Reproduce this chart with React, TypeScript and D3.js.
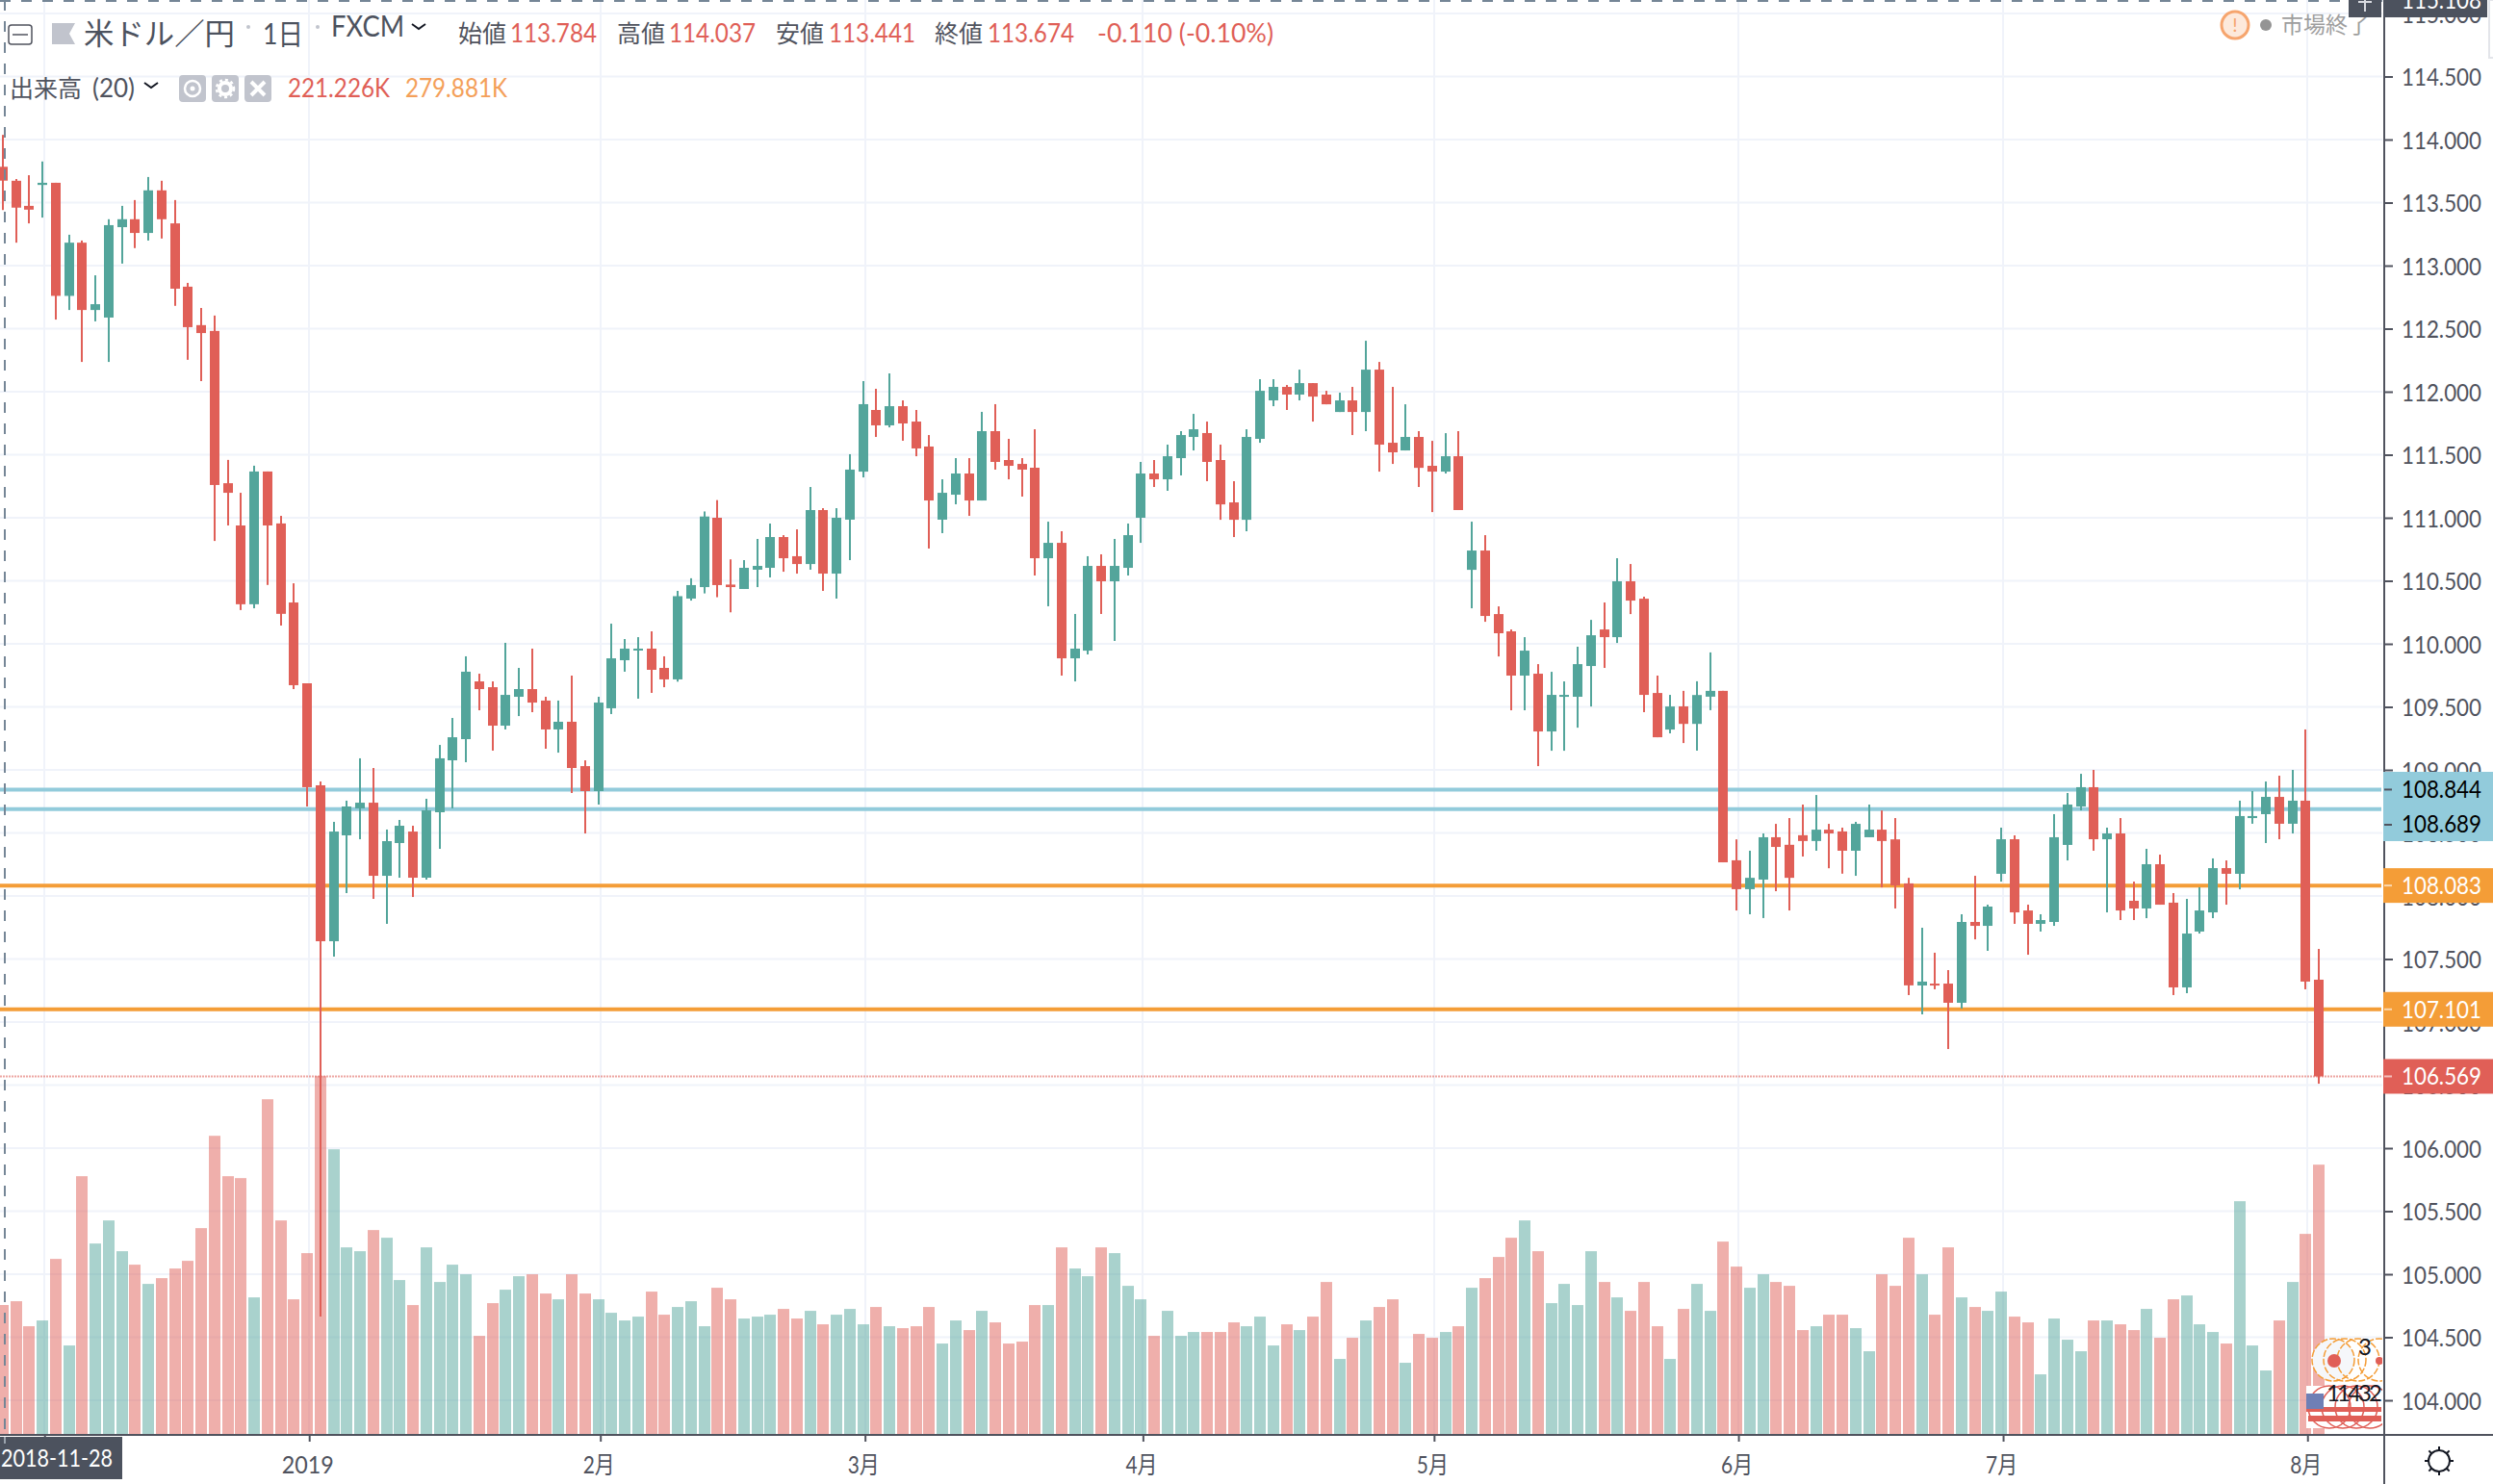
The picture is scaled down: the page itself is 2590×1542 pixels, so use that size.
import React, { useRef, useEffect } from 'react';
import { select, scaleLinear, axisRight, axisBottom, format, range } from 'd3';

// USD/JPY daily
const opens = [
  113.784, 113.673, 113.474, 113.64, 113.657, 112.76, 113.182, 112.648, 112.588, 113.305,
  113.368, 113.259, 113.597, 113.335, 112.833, 112.528, 112.482, 111.274, 110.939, 110.314,
  111.367, 110.955, 110.328, 109.687, 108.878, 107.641, 108.481, 108.695, 108.74, 108.16,
  108.42, 108.511, 108.145, 108.664, 109.076, 109.244, 109.702, 109.656, 109.351, 109.58,
  109.641, 109.55, 109.321, 109.382, 109.03, 108.832, 109.489, 109.87, 109.947, 109.962,
  109.809, 109.718, 110.359, 110.45, 111.0, 110.47, 110.435, 110.588, 110.603, 110.847,
  110.695, 110.633, 111.061, 110.557, 110.985, 111.366, 111.855, 111.733, 111.885, 111.763,
  111.565, 110.985, 111.183, 111.351, 111.137, 111.687, 111.458, 111.427, 111.397, 110.679,
  110.801, 109.885, 109.946, 110.618, 110.496, 110.603, 111.0, 111.351, 111.305, 111.473,
  111.641, 111.672, 111.458, 111.122, 110.984, 111.626, 111.931, 112.038, 111.977, 112.068,
  111.977, 111.839, 111.931, 111.839, 112.175, 111.595, 111.534, 111.641, 111.412, 111.366,
  111.488, 110.587, 110.74, 110.236, 110.099, 109.748, 109.763, 109.305, 109.58, 109.58,
  109.824, 110.114, 110.053, 110.496, 110.358, 109.61, 109.32, 109.504, 109.365, 109.581,
  109.627, 108.283, 108.054, 108.13, 108.466, 108.406, 108.482, 108.436, 108.526, 108.512,
  108.359, 108.466, 108.526, 108.449, 108.1, 107.29, 107.305, 107.305, 107.153, 107.794,
  107.763, 108.176, 108.45, 107.885, 107.779, 107.794, 108.405, 108.71, 108.863, 108.45,
  108.496, 107.962, 107.901, 108.252, 107.947, 107.275, 107.718, 107.87, 108.221, 108.176,
  108.618, 108.649, 108.786, 108.573, 108.756, 107.336,
];
const closes = [
  113.674, 113.46, 113.444, 113.657, 112.76, 113.182, 112.648, 112.694, 113.321, 113.368,
  113.259, 113.597, 113.368, 112.817, 112.512, 112.465, 111.26, 111.198, 110.314, 111.367,
  110.939, 110.238, 109.672, 108.863, 107.641, 108.511, 108.71, 108.74, 108.16, 108.435,
  108.557, 108.145, 108.679, 109.092, 109.259, 109.779, 109.641, 109.351, 109.595, 109.641,
  109.534, 109.321, 109.382, 109.015, 108.832, 109.534, 109.885, 109.962, 109.962, 109.794,
  109.718, 110.378, 110.466, 111.01, 110.466, 110.45, 110.603, 110.618, 110.847, 110.679,
  110.633, 111.061, 110.557, 111.0, 111.382, 111.901, 111.733, 111.885, 111.748, 111.55,
  111.137, 111.198, 111.351, 111.137, 111.687, 111.443, 111.412, 111.382, 110.679, 110.801,
  109.885, 109.962, 110.618, 110.496, 110.618, 110.862, 111.351, 111.305, 111.488, 111.656,
  111.702, 111.443, 111.106, 110.984, 111.641, 112.007, 112.038, 111.977, 112.068, 111.961,
  111.9, 111.931, 111.839, 112.175, 111.58, 111.519, 111.641, 111.396, 111.366, 111.488,
  111.061, 110.74, 110.221, 110.084, 109.748, 109.946, 109.305, 109.595, 109.595, 109.839,
  110.068, 110.053, 110.496, 110.343, 109.595, 109.259, 109.503, 109.365, 109.594, 109.627,
  108.267, 108.054, 108.144, 108.466, 108.389, 108.144, 108.436, 108.526, 108.496, 108.359,
  108.572, 108.526, 108.436, 108.084, 107.291, 107.321, 107.29, 107.153, 107.794, 107.763,
  107.916, 108.45, 107.87, 107.779, 107.809, 108.466, 108.725, 108.863, 108.45, 108.496,
  107.885, 107.901, 108.252, 107.931, 107.275, 107.702, 107.885, 108.221, 108.176, 108.634,
  108.634, 108.786, 108.573, 108.756, 107.321, 106.569,
];
const highs = [
  114.037, 113.687, 113.717, 113.826, 113.657, 113.245, 113.199, 112.923, 113.368, 113.474,
  113.52, 113.703, 113.673, 113.52, 112.863, 112.664, 112.604, 111.459, 111.198, 111.413,
  111.367, 111.015, 110.48, 109.687, 108.908, 108.588, 108.756, 109.092, 109.015, 108.527,
  108.603, 108.557, 108.771, 109.198, 109.412, 109.901, 109.763, 109.702, 110.008, 109.809,
  109.962, 109.58, 109.55, 109.748, 109.076, 109.58, 110.16, 110.038, 110.053, 110.099,
  109.901, 110.42, 110.52, 111.05, 111.14, 110.67, 110.664, 110.832, 110.954, 110.862,
  110.908, 111.244, 111.076, 111.076, 111.504, 112.084, 112.023, 112.145, 111.931, 111.855,
  111.656, 111.305, 111.473, 111.473, 111.84, 111.901, 111.626, 111.473, 111.702, 110.969,
  110.893, 110.237, 110.695, 110.71, 110.832, 110.954, 111.443, 111.458, 111.58, 111.687,
  111.824, 111.763, 111.58, 111.29, 111.702, 112.099, 112.099, 112.053, 112.175, 112.068,
  112.007, 111.992, 112.038, 112.404, 112.236, 112.038, 111.9, 111.687, 111.61, 111.671,
  111.687, 110.969, 110.862, 110.297, 110.114, 110.053, 109.839, 109.778, 109.702, 109.977,
  110.19, 110.328, 110.679, 110.633, 110.374, 109.748, 109.595, 109.627, 109.703, 109.932,
  109.627, 108.449, 108.359, 108.496, 108.572, 108.618, 108.725, 108.801, 108.572, 108.542,
  108.588, 108.725, 108.678, 108.618, 108.144, 107.748, 107.55, 107.412, 107.855, 108.16,
  107.931, 108.542, 108.481, 107.931, 107.855, 108.649, 108.817, 108.969, 109.0, 108.542,
  108.618, 108.114, 108.374, 108.328, 108.023, 107.977, 108.069, 108.298, 108.282, 108.756,
  108.832, 108.908, 108.954, 109.0, 109.321, 107.58,
];
const lows = [
  113.441, 113.182, 113.335, 113.381, 112.572, 112.648, 112.236, 112.558, 112.236, 113.016,
  113.139, 113.199, 113.215, 112.681, 112.253, 112.084, 110.816, 110.939, 110.268, 110.282,
  110.467, 110.145, 109.641, 108.71, 104.664, 107.519, 108.023, 108.45, 107.977, 107.779,
  108.145, 107.992, 108.13, 108.374, 108.695, 109.061, 109.473, 109.153, 109.321, 109.427,
  109.458, 109.168, 109.137, 108.817, 108.496, 108.725, 109.443, 109.779, 109.565, 109.611,
  109.656, 109.7, 110.343, 110.4, 110.37, 110.25, 110.435, 110.45, 110.527, 110.572,
  110.557, 110.588, 110.42, 110.359, 110.664, 111.32, 111.641, 111.717, 111.611, 111.488,
  110.756, 110.878, 111.107, 111.015, 111.137, 111.382, 111.305, 111.168, 110.542, 110.298,
  109.748, 109.702, 109.916, 110.237, 110.023, 110.542, 110.801, 111.244, 111.214, 111.336,
  111.534, 111.29, 110.984, 110.847, 110.893, 111.595, 111.885, 111.855, 111.931, 111.763,
  111.9, 111.839, 111.656, 111.687, 111.366, 111.427, 111.534, 111.244, 111.045, 111.351,
  111.061, 110.282, 110.175, 109.9, 109.473, 109.473, 109.03, 109.152, 109.152, 109.335,
  109.503, 109.809, 110.007, 110.236, 109.458, 109.259, 109.29, 109.213, 109.153, 109.474,
  108.267, 107.885, 107.855, 107.825, 108.038, 107.885, 108.313, 108.359, 108.22, 108.177,
  108.16, 108.466, 108.068, 107.901, 107.214, 107.061, 107.26, 106.786, 107.107, 107.656,
  107.565, 108.114, 107.779, 107.534, 107.718, 107.763, 108.282, 108.679, 108.359, 107.87,
  107.809, 107.809, 107.824, 107.931, 107.214, 107.229, 107.702, 107.824, 107.931, 108.053,
  108.573, 108.42, 108.45, 108.496, 107.26, 106.511,
];
// thousands
const volumes = [
  221.2, 227.7, 184.8, 194.7, 300.3, 151.8, 442.2, 326.7, 366.3, 313.5,
  290.4, 257.4, 267.3, 283.8, 297, 353.1, 511.5, 442.2, 438.9, 234.3,
  574.2, 366.3, 231, 310.2, 613.8, 488.4, 320.1, 313.5, 349.8, 336.6,
  264, 221.1, 320.1, 260.7, 290.4, 273.9, 168.3, 224.4, 247.5, 270.6,
  273.9, 240.9, 231, 273.9, 240.9, 231, 207.9, 194.7, 201.3, 244.2,
  204.6, 217.8, 227.7, 184.8, 250.8, 231, 198, 201.3, 204.6, 214.5,
  198, 211.2, 188.1, 204.6, 214.5, 188.1, 217.8, 184.8, 181.5, 184.8,
  217.8, 155.1, 194.7, 178.2, 211.2, 191.4, 155.1, 158.4, 221.1, 221.1,
  320.1, 283.8, 270.6, 320.1, 310.2, 254.1, 231, 168.3, 211.2, 168.3,
  174.9, 174.9, 174.9, 191.4, 184.8, 201.3, 151.8, 188.1, 178.2, 201.3,
  260.7, 128.7, 165, 194.7, 217.8, 231, 122.1, 171.6, 165, 174.9,
  184.8, 250.8, 267.3, 303.6, 336.6, 366.3, 313.5, 224.4, 257.4, 221.1,
  313.5, 260.7, 234.3, 211.2, 260.7, 184.8, 128.7, 214.5, 257.4, 211.2,
  330, 287.1, 250.8, 273.9, 260.7, 254.1, 178.2, 184.8, 204.6, 204.6,
  181.5, 141.9, 273.9, 254.1, 336.6, 273.9, 204.6, 320.1, 234.3, 217.8,
  211.2, 244.2, 201.3, 191.4, 102.3, 198, 161.7, 141.9, 194.7, 194.7,
  188.1, 178.2, 214.5, 165, 231, 237.6, 188.1, 174.9, 155.1, 399.3,
  151.8, 108.9, 194.7, 260.7, 343.2, 462,
];

const priceTicks = range(104, 115.5, 0.5);
const monthTicks = [3, 23, 45, 65, 86, 108, 131, 151, 174];
const monthLabels = ['', '2019', '2月', '3月', '4月', '5月', '6月', '7月', '8月'];

const blueLevels = [108.844, 108.689];
const orangeLevels = [108.083, 107.101];
const lastPrice = 106.569;

const RED = '#e05f57';
const GREEN = '#53a59b';
const BLUE_LINE = '#92cbdb';
const ORANGE_LINE = '#f49d37';
const GRID = '#f0f3fa';
const AXIS = '#50535e';
const FONT = "Lato, 'Noto Sans CJK JP', sans-serif";
const CJK = "'Noto Sans CJK JP', sans-serif";

function App() {
  const svgRef = useRef<SVGSVGElement>(null);

  useEffect(() => {
    const svg = select(svgRef.current);
    svg.selectAll('*').remove();

    const plotRight = 2475;
    const axisTop = 1491;

    const xScale = scaleLinear().domain([0, opens.length - 1]).range([3, 2409]);
    const yScale = scaleLinear().domain([114, 104]).range([145, 1455]);
    const volScale = scaleLinear().domain([0, 660.4]).range([1490, 1090]);

    const defs = svg.append('defs');
    defs.append('clipPath').attr('id', 'plot')
      .append('rect').attr('x', 0).attr('y', 0).attr('width', plotRight).attr('height', axisTop);

    // the reference font is narrower than anything installed, so numbers get squeezed to length
    const label = (x, y, str, o: any = {}) => {
      const t = svg.append('text')
        .attr('x', x).attr('y', y)
        .attr('dy', '0.35em')
        .attr('font-family', o.family || FONT)
        .attr('font-size', o.size || 25)
        .attr('fill', o.fill || AXIS)
        .attr('text-anchor', o.anchor || 'start')
        .text(str);
      if (o.len) t.attr('textLength', o.len).attr('lengthAdjust', 'spacingAndGlyphs');
      return t;
    };

    // grid
    const plot = svg.append('g').attr('clip-path', 'url(#plot)');
    plot.selectAll('.hgrid').data(priceTicks).join('line')
      .attr('class', 'hgrid')
      .attr('x1', 0).attr('x2', plotRight)
      .attr('y1', d => yScale(d)).attr('y2', d => yScale(d))
      .attr('stroke', GRID).attr('stroke-width', 2);
    plot.selectAll('.vgrid').data(monthTicks).join('line')
      .attr('class', 'vgrid')
      .attr('x1', d => Math.round(xScale(d)) + 2).attr('x2', d => Math.round(xScale(d)) + 2)
      .attr('y1', 0).attr('y2', axisTop)
      .attr('stroke', GRID).attr('stroke-width', 2);

    // volume
    const up = i => closes[i] >= opens[i];
    plot.selectAll('.vol').data(volumes).join('rect')
      .attr('class', 'vol')
      .attr('x', (d, i) => Math.round(xScale(i)) - 6)
      .attr('width', 12)
      .attr('y', d => volScale(d))
      .attr('height', d => volScale(0) - volScale(d))
      .attr('fill', (d, i) => (up(i) ? GREEN : RED))
      .attr('opacity', 0.5);

    // horizontal levels, they sit behind the candles
    plot.selectAll('.blue').data(blueLevels).join('line')
      .attr('x1', 0).attr('x2', plotRight - 1)
      .attr('y1', d => yScale(d)).attr('y2', d => yScale(d))
      .attr('stroke', BLUE_LINE).attr('stroke-width', 4);
    plot.selectAll('.orange').data(orangeLevels).join('line')
      .attr('x1', 0).attr('x2', plotRight - 1)
      .attr('y1', d => yScale(d)).attr('y2', d => yScale(d))
      .attr('stroke', ORANGE_LINE).attr('stroke-width', 4);
    plot.append('line')
      .attr('x1', 0).attr('x2', plotRight - 1)
      .attr('y1', yScale(lastPrice)).attr('y2', yScale(lastPrice))
      .attr('stroke', RED).attr('stroke-width', 2)
      .attr('stroke-dasharray', '2 1').attr('opacity', 0.55);

    // candles
    plot.selectAll('.wick').data(opens).join('rect')
      .attr('class', 'wick')
      .attr('x', (d, i) => Math.round(xScale(i)) - 1)
      .attr('width', 2)
      .attr('y', (d, i) => yScale(highs[i]))
      .attr('height', (d, i) => yScale(lows[i]) - yScale(highs[i]))
      .attr('fill', (d, i) => (up(i) ? GREEN : RED));
    plot.selectAll('.body').data(opens).join('rect')
      .attr('class', 'body')
      .attr('x', (d, i) => Math.round(xScale(i)) - 5)
      .attr('width', 10)
      .attr('y', (d, i) => yScale(Math.max(opens[i], closes[i])))
      .attr('height', (d, i) => Math.max(2, Math.abs(yScale(opens[i]) - yScale(closes[i]))))
      .attr('fill', (d, i) => (up(i) ? GREEN : RED));

    // event markers bottom right
    const marks = plot.append('g');
    [2424, 2436, 2450, 2472].forEach((cx, i) => {
      marks.append('circle').attr('cx', cx).attr('cy', 1413).attr('r', 22)
        .attr('fill', i === 0 ? '#f5f7fa' : 'none')
        .attr('stroke', ORANGE_LINE).attr('stroke-width', 1.5)
        .attr('stroke-dasharray', '7 2');
    });
    marks.append('circle').attr('cx', 2425).attr('cy', 1414).attr('r', 7).attr('fill', RED);
    marks.append('circle').attr('cx', 2472).attr('cy', 1414).attr('r', 4).attr('fill', RED);
    marks.append('text').attr('x', 2457).attr('y', 1400).attr('dy', '0.35em')
      .attr('text-anchor', 'middle').attr('font-family', FONT).attr('font-size', 24)
      .attr('fill', '#131722').text('3');
    marks.append('rect').attr('x', 2396).attr('y', 1440).attr('width', 80).attr('height', 44).attr('fill', '#fff');
    [2420, 2434, 2448, 2462].forEach(cx => {
      marks.append('circle').attr('cx', cx).attr('cy', 1462).attr('r', 22)
        .attr('fill', 'none').attr('stroke', RED).attr('stroke-width', 1.5);
    });
    marks.append('rect').attr('x', 2396).attr('y', 1462).attr('width', 78).attr('height', 5).attr('fill', RED);
    marks.append('rect').attr('x', 2398).attr('y', 1471).attr('width', 76).attr('height', 6).attr('fill', RED);
    marks.append('rect').attr('x', 2396).attr('y', 1448).attr('width', 18).attr('height', 16).attr('fill', '#6f7fb5');
    marks.append('text').attr('x', 2417).attr('y', 1448).attr('dy', '0.35em')
      .attr('font-family', FONT).attr('font-size', 24).attr('fill', '#131722')
      .attr('textLength', 58).attr('lengthAdjust', 'spacing').text('11432');

    // crosshair
    svg.append('line').attr('x1', 5).attr('x2', 5).attr('y1', 0).attr('y2', 1492)
      .attr('stroke', '#758696').attr('stroke-width', 2).attr('stroke-dasharray', '11 11');
    svg.append('line').attr('x1', 0).attr('x2', plotRight).attr('y1', 1).attr('y2', 1)
      .attr('stroke', '#758696').attr('stroke-width', 2).attr('stroke-dasharray', '11 11');

    // price axis
    const yAxis = axisRight(yScale)
      .tickValues(priceTicks)
      .tickFormat(format('.3f'))
      .tickSize(9)
      .tickPadding(9);
    const yG = svg.append('g').attr('transform', 'translate(2477,0)').call(yAxis);
    yG.select('.domain').remove();
    yG.selectAll('line').attr('stroke', AXIS).attr('stroke-width', 2);
    yG.selectAll('text')
      .attr('dy', '0.36em')
      .attr('font-family', FONT).attr('font-size', 25).attr('fill', AXIS)
      .attr('textLength', 83).attr('lengthAdjust', 'spacingAndGlyphs');

    // time axis
    const xAxis = axisBottom(xScale)
      .tickValues(monthTicks)
      .tickFormat((d, i) => monthLabels[i])
      .tickSize(7)
      .tickPadding(15);
    const xG = svg.append('g').attr('transform', `translate(2,${axisTop})`).call(xAxis);
    xG.select('.domain').remove();
    xG.selectAll('line').attr('stroke', AXIS).attr('stroke-width', 2);
    xG.selectAll('text')
      .attr('x', -2)
      .attr('font-family', FONT).attr('font-size', 25).attr('fill', AXIS)
      .attr('textLength', (d, i) => (monthLabels[i] === '2019' ? 54 : monthLabels[i] ? 33 : null))
      .attr('lengthAdjust', 'spacingAndGlyphs');

    svg.append('line').attr('x1', 0).attr('x2', 2590).attr('y1', axisTop).attr('y2', axisTop)
      .attr('stroke', AXIS).attr('stroke-width', 2);
    svg.append('line').attr('x1', 2477).attr('x2', 2477).attr('y1', 0).attr('y2', 1542)
      .attr('stroke', AXIS).attr('stroke-width', 2);

    // price tags
    const tag = (y0, y1, fill) =>
      svg.append('rect').attr('x', 2476).attr('y', y0).attr('width', 114).attr('height', y1 - y0).attr('fill', fill);
    const tagTick = (y, stroke) =>
      svg.append('line').attr('x1', 2477).attr('x2', 2485).attr('y1', y).attr('y2', y)
        .attr('stroke', stroke).attr('stroke-width', 2);

    tag(802, 874, BLUE_LINE);
    tagTick(yScale(blueLevels[0]), AXIS);
    tagTick(857, AXIS);
    label(2495, 820, format('.3f')(blueLevels[0]), { fill: '#000', len: 83 });
    label(2495, 856, format('.3f')(blueLevels[1]), { fill: '#000', len: 83 });

    orangeLevels.forEach(v => {
      const y = yScale(v);
      tag(y - 18, y + 18, ORANGE_LINE);
      tagTick(y, 'rgba(255,255,255,0.6)');
      label(2495, y, format('.3f')(v), { fill: '#fff', len: 83 });
    });
    tag(yScale(lastPrice) - 18, yScale(lastPrice) + 18, RED);
    tagTick(yScale(lastPrice), 'rgba(255,255,255,0.6)');
    label(2495, yScale(lastPrice), format('.3f')(lastPrice), { fill: '#fff', len: 83 });

    // crosshair tags
    svg.append('rect').attr('x', 2476).attr('y', 0).attr('width', 108).attr('height', 18).attr('fill', '#4c525e');
    label(2495, 0, '115.108', { fill: '#fff', len: 83 });
    svg.append('rect').attr('x', 0).attr('y', 1493).attr('width', 127).attr('height', 44).attr('fill', '#4c525e');
    label(1, 1515, '2018-11-28', { fill: '#fff', len: 116 });
    svg.append('line').attr('x1', 5).attr('x2', 5).attr('y1', 1493).attr('y2', 1500)
      .attr('stroke', '#9aa3ad').attr('stroke-width', 2);

    // top legend
    svg.append('rect').attr('x', 9).attr('y', 26).attr('width', 24).attr('height', 20).attr('rx', 3)
      .attr('fill', 'none').attr('stroke', AXIS).attr('stroke-width', 1.5);
    svg.append('line').attr('x1', 13).attr('x2', 29).attr('y1', 36).attr('y2', 36)
      .attr('stroke', AXIS).attr('stroke-width', 1.5);
    svg.append('path').attr('d', 'M54 24H78L72 35L78 46H54Z').attr('fill', '#c1c4cd');
    label(87, 35, '米ドル／円', { family: CJK, size: 31, fill: '#4c525e', len: 157 });
    svg.append('circle').attr('cx', 258).attr('cy', 28).attr('r', 2).attr('fill', '#c1c4cd');
    label(273, 35, '1日', { family: FONT, size: 30, fill: '#4c525e', len: 42 });
    svg.append('circle').attr('cx', 330).attr('cy', 28).attr('r', 2).attr('fill', '#c1c4cd');
    label(344, 27, 'FXCM', { size: 30, fill: '#4c525e', len: 76 });
    svg.append('path').attr('d', 'M428 25L435 30L442 25').attr('fill', 'none').attr('stroke', '#131722').attr('stroke-width', 2);

    const ohlc = [
      ['始値', 476, '113.784', 530],
      ['高値', 641, '114.037', 695],
      ['安値', 806, '113.441', 861],
      ['終値', 971, '113.674', 1026],
    ];
    ohlc.forEach(([name, nx, val, vx]) => {
      label(nx, 35, name, { family: CJK, size: 25 });
      label(vx, 35, val, { size: 26, fill: RED, len: 90 });
    });
    label(1140, 35, '-0.110 (-0.10%)', { size: 26, fill: RED, len: 183 });

    // volume legend
    label(10, 92, '出来高', { family: CJK, size: 25 });
    label(96, 92, '(20)', { size: 26, len: 44 });
    svg.append('path').attr('d', 'M150 86L157 91L164 86').attr('fill', 'none').attr('stroke', '#131722').attr('stroke-width', 2);
    [186, 220, 254].forEach(x => {
      svg.append('rect').attr('x', x).attr('y', 78).attr('width', 28).attr('height', 28).attr('rx', 4).attr('fill', '#c1c4cd');
    });
    svg.append('circle').attr('cx', 200).attr('cy', 92).attr('r', 8).attr('fill', 'none').attr('stroke', '#fff').attr('stroke-width', 2.5);
    svg.append('circle').attr('cx', 200).attr('cy', 92).attr('r', 2.5).attr('fill', '#fff');
    svg.append('circle').attr('cx', 234).attr('cy', 92).attr('r', 6).attr('fill', 'none').attr('stroke', '#fff').attr('stroke-width', 4);
    svg.append('circle').attr('cx', 234).attr('cy', 92).attr('r', 9).attr('fill', 'none').attr('stroke', '#fff').attr('stroke-width', 2.5).attr('stroke-dasharray', '3 3');
    svg.append('path').attr('d', 'M261 85L275 99M275 85L261 99').attr('stroke', '#fff').attr('stroke-width', 4);
    label(299, 92, '221.226K', { size: 26, fill: RED, len: 106 });
    label(421, 92, '279.881K', { size: 26, fill: '#f4a05a', len: 106 });

    // market status
    svg.append('circle').attr('cx', 2322).attr('cy', 26).attr('r', 14).attr('fill', '#fde9db').attr('stroke', '#f6a56e').attr('stroke-width', 3);
    label(2322, 26, '!', { anchor: 'middle', size: 20, fill: '#f6a56e' });
    svg.append('circle').attr('cx', 2354).attr('cy', 26).attr('r', 6).attr('fill', '#949494');
    label(2370, 26, '市場終了', { family: CJK, size: 23, fill: '#9e9e9e' });
    svg.append('rect').attr('x', 2440).attr('y', 0).attr('width', 34).attr('height', 18).attr('fill', '#4c525e');
    svg.append('path').attr('d', 'M2457 0V12M2450 2H2464').attr('stroke', '#d8dae0').attr('stroke-width', 2);

    // edge of the popup at the right
    svg.append('rect').attr('x', 2586).attr('y', 0).attr('width', 8).attr('height', 60)
      .attr('fill', '#fff').attr('stroke', '#e3e5ea').attr('stroke-width', 2);

    // settings icon
    const gear = svg.append('g').attr('transform', 'translate(2534,1518)');
    gear.append('circle').attr('r', 11).attr('fill', 'none').attr('stroke', '#131722').attr('stroke-width', 2);
    range(8).forEach(i => {
      const a = (i * Math.PI) / 4;
      gear.append('line')
        .attr('x1', 11 * Math.cos(a)).attr('y1', 11 * Math.sin(a))
        .attr('x2', 15 * Math.cos(a)).attr('y2', 15 * Math.sin(a))
        .attr('stroke', '#131722').attr('stroke-width', 2);
    });
  }, []);

  return (
    <svg
      ref={svgRef}
      width={2590}
      height={1542}
      style={{ position: 'absolute', left: 0, top: 0, display: 'block', background: '#fff' }}
    />
  );
}

export default App;
